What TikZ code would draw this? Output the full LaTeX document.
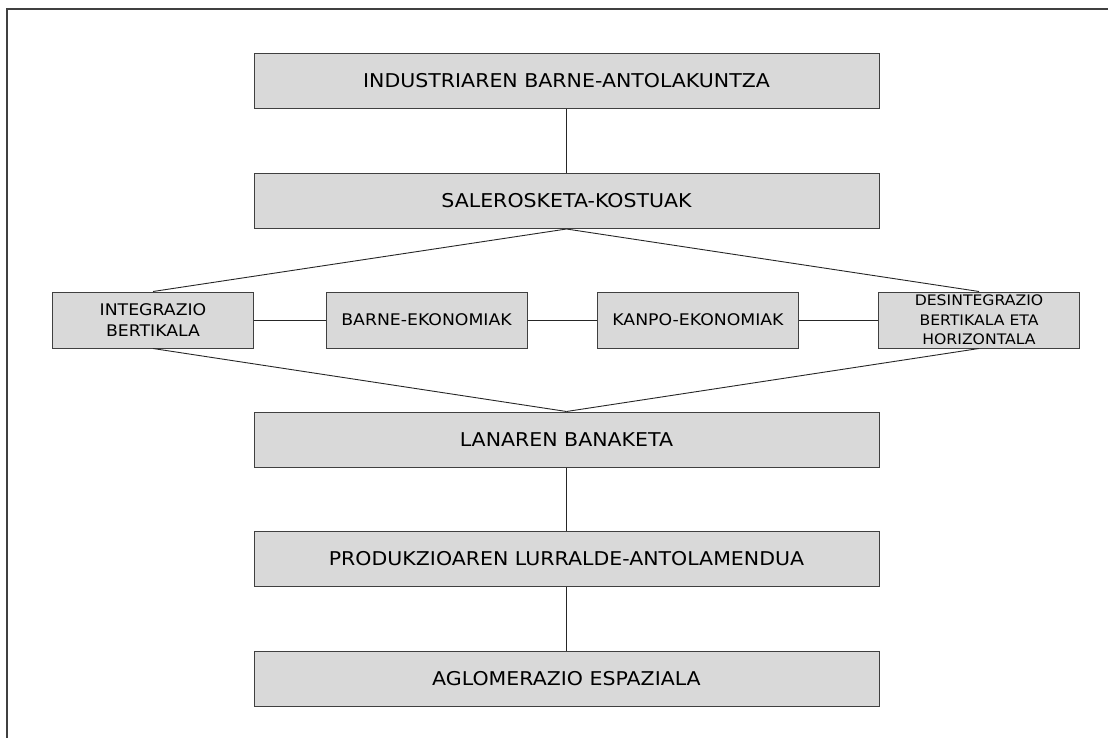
\documentclass[tikz,border=0pt]{standalone}
\usepackage{fontspec}
\setmainfont{DejaVu Sans}[FakeStretch=1.08]
\usetikzlibrary{positioning}

\begin{document}
\begin{tikzpicture}[
  x=1pt,y=-1pt,
  box/.style={fill = box gray,draw = box line,line width=1pt,rectangle,inner sep=0,align=center,font=\fontsize{19}{22}\selectfont},
  wide box/.style={box,minimum width=625pt,minimum height=55pt},
  small box/.style={box,minimum width=201pt,minimum height=56pt,font=\fontsize{16}{21}\selectfont},
  tiny text/.style={font=\fontsize{14.5}{19.5}\selectfont},
  link/.style={draw = black!85,line width=0.9pt},
]
  \colorlet{box gray}{black!15}
  \colorlet{box line}{black!75}
  \useasboundingbox (0,0) rectangle (1108,738);
  \draw[box line,line width=1.3pt] (7,738) -- (7,9) -- (1108,9);

  \node[wide box] (industria) at (566.5,81) {INDUSTRIAREN BARNE-ANTOLAKUNTZA};
  \node[wide box] (kostuak) at (566.5,201) {SALEROSKETA-KOSTUAK};

  \node[small box] (integ) at (153,320) {INTEGRAZIO\\BERTIKALA};
  \node[small box] (barne) at (426.5,320) {BARNE-EKONOMIAK};
  \node[small box] (kanpo) at (698,320) {KANPO-EKONOMIAK};
  \node[small box,tiny text] (desint) at (979,320) {DESINTEGRAZIO\\BERTIKALA ETA\\HORIZONTALA};

  \node[wide box] (lana) at (566.5,439.5) {LANAREN BANAKETA};
  \node[wide box] (lurralde) at (566.5,559) {PRODUKZIOAREN LURRALDE-ANTOLAMENDUA};
  \node[wide box] (aglom) at (566.5,679) {AGLOMERAZIO ESPAZIALA};

  \draw[link] (industria) -- (kostuak);
  \draw[link] (kostuak.south) -- (integ.north);
  \draw[link] (kostuak.south) -- (desint.north);
  \draw[link] (integ) -- (barne) -- (kanpo) -- (desint);
  \draw[link] (integ.south) -- (lana.north);
  \draw[link] (desint.south) -- (lana.north);
  \draw[link] (lana) -- (lurralde) -- (aglom);
\end{tikzpicture}
\end{document}
